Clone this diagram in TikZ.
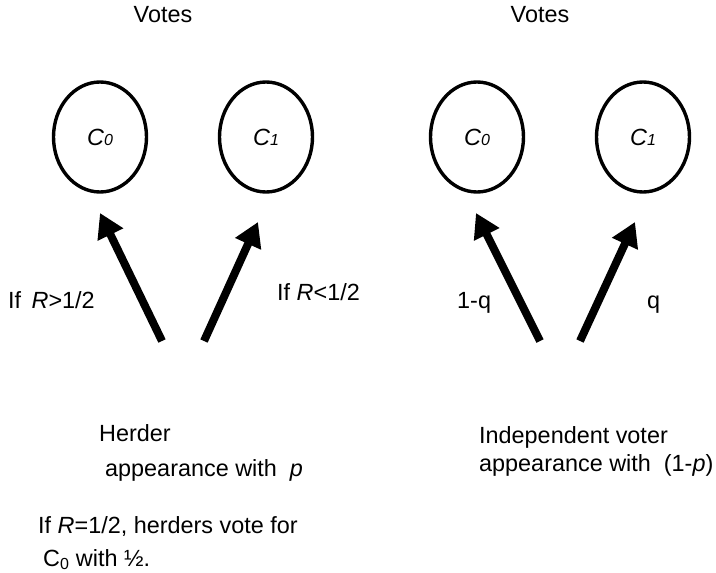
\documentclass[tikz,border=0pt]{standalone}
\usepackage{fontspec}
\setmainfont{Liberation Sans}
\usetikzlibrary{arrows.meta,shapes.geometric}
\begin{document}
\begin{tikzpicture}[x=1pt,y=-1pt,
  lbl/.style={font=\fontsize{23.4}{28}\selectfont, inner sep=0pt, anchor=base west},
  cand/.style={draw, ellipse, line width=3.4pt, minimum width=93pt, minimum height=110pt,
    inner sep=0pt, font=\fontsize{23.4}{28}\selectfont\itshape},
  vote/.style={line width=8pt, -{Triangle[length=24pt,width=27pt]}}]
\useasboundingbox (0,0) rectangle (716,573);
\newcommand{\candlabel}[1]{C{\fontsize{16}{16}\selectfont #1}}

% herder half
\node[lbl, anchor=base] (votesL) at (163,22) {Votes};
\node[cand] (c0L) at (100,137) {\candlabel{0}};
\node[cand] (c1L) at (266,137) {\candlabel{1}};
\coordinate (tailL0) at (162,341);
\coordinate (tipL0) at (100,213);
\coordinate (tailL1) at (204,341);
\coordinate (tipL1) at (258,222);
\draw[vote] (tailL0) -- (tipL0);
\draw[vote] (tailL1) -- (tipL1);
\node[lbl] (condGt) at (8,308) {If\, \textit{R}>1/2};
\node[lbl] (condLt) at (277,300) {If \textit{R}<1/2};
\node[lbl] (herder) at (99,441) {Herder};
\node[lbl] (herderP) at (105,476) {appearance with\ \ \textit{p}};
\node[lbl] (tie1) at (38,533) {If \textit{R}=1/2, herders vote for};
\node[lbl] (tie2) at (43,566) {C$_{\mbox{\fontsize{16}{16}\selectfont 0}}$ with ½.};

% independent half
\node[lbl, anchor=base] (votesR) at (540,22) {Votes};
\node[cand] (c0R) at (477,137) {\candlabel{0}};
\node[cand] (c1R) at (643,137) {\candlabel{1}};
\coordinate (tailR0) at (540,341);
\coordinate (tipR0) at (476,213);
\coordinate (tailR1) at (580,341);
\coordinate (tipR1) at (635,222);
\draw[vote] (tailR0) -- (tipR0);
\draw[vote] (tailR1) -- (tipR1);
\node[lbl] (probA) at (457,308) {1-q};
\node[lbl] (probB) at (647,308) {q};
\node[lbl] (indep) at (479,443) {Independent voter};
\node[lbl] (indepP) at (479,471) {appearance with\ \ (1-\textit{p})};
\end{tikzpicture}
\end{document}
